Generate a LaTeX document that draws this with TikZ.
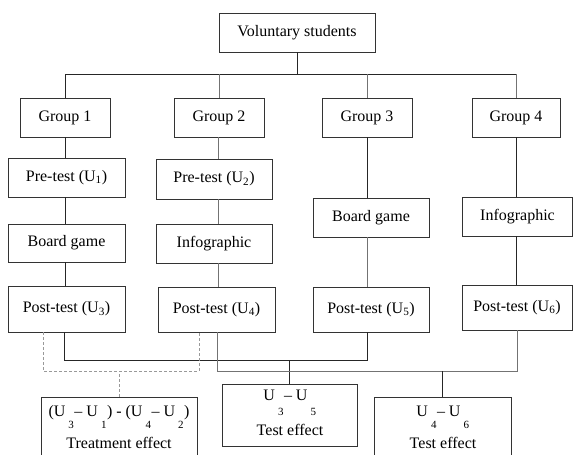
\documentclass[tikz,border=0pt]{standalone}
\usepackage{fontspec}
\setmainfont{Liberation Serif}
\newcommand\lowsub[2][12pt]{\rlap{\kern3pt\raisebox{-#1}{\fontsize{11}{12}\selectfont #2}}\kern9pt}
\begin{document}
\begin{tikzpicture}[x=1pt,y=-1pt,
  box/.style={draw=black!80, line width=0.9pt, inner sep=0pt, font=\fontsize{16}{18}\selectfont},
  lbl/.style={inner sep=0pt, font=\fontsize{16}{18}\selectfont},
  conn/.style={draw=black!85, line width=0.9pt},
  lconn/.style={draw=black!55, line width=0.9pt},
  dashconn/.style={draw=black!40, line width=0.8pt, dash pattern=on 3pt off 2pt}]
\useasboundingbox (0,0) rectangle (573,455);
\clip (0,0) rectangle (573,455);
\fill[white] (0,0) rectangle (573,455);

% top
\node[box, minimum width=156pt, minimum height=39pt] (vs) at (297,32.5) {Voluntary students};
% groups
\node[box, minimum width=90pt, minimum height=39pt] (g1) at (65,117.5) {Group 1};
\node[box, minimum width=90pt, minimum height=39pt] (g2) at (219,117.5) {Group 2};
\node[box, minimum width=90pt, minimum height=39pt] (g3) at (367,117.5) {Group 3};
\node[box, minimum width=88pt, minimum height=39pt] (g4) at (516,117.5) {Group 4};
% pre-tests
\node[box, minimum width=117pt, minimum height=39pt] (pre1) at (66.5,177.5) {Pre-test (U\textsubscript{1})};
\node[box, minimum width=116pt, minimum height=40pt] (pre2) at (214,179) {Pre-test (U\textsubscript{2})};
% treatments
\node[box, minimum width=117pt, minimum height=38pt] (bg1) at (66.5,243) {Board game};
\node[box, minimum width=116pt, minimum height=39pt] (ig2) at (214,243.5) {Infographic};
\node[box, minimum width=116pt, minimum height=39pt] (bg3) at (371,217.5) {Board game};
\node[box, minimum width=110pt, minimum height=39pt] (ig4) at (517.5,216.5) {Infographic};
% post-tests
\node[box, minimum width=117pt, minimum height=46pt] (p3) at (66.5,309) {Post-test (U\textsubscript{3})};
\node[box, minimum width=117pt, minimum height=45pt] (p4) at (216.5,309.5) {Post-test (U\textsubscript{4})};
\node[box, minimum width=116pt, minimum height=45pt] (p5) at (371,309.5) {Post-test (U\textsubscript{5})};
\node[box, minimum width=110pt, minimum height=45pt] (p6) at (517,307.5) {Post-test (U\textsubscript{6})};
% result boxes
\node[box, minimum width=156pt, minimum height=65pt] (tr) at (119,429.5) {};
\node[box, minimum width=135pt, minimum height=62pt] (t1) at (289.5,415) {};
\node[box, minimum width=137pt, minimum height=65pt] (t2) at (442.5,429.5) {};

% texts in result boxes
\node[lbl, anchor=base] (trf) at (119,416) {(U\lowsub{3}– U\lowsub{1}) - (U\lowsub{4}– U\lowsub{2})};
\node[lbl, anchor=base] (trn) at (119,448) {Treatment effect};
\node[lbl, anchor=base] (t1f) at (290,400) {U\lowsub[15pt]{3}– U\lowsub[15pt]{5}};
\node[lbl, anchor=base] (t1n) at (290,435) {Test effect};
\node[lbl, anchor=base] (t2f) at (443,416) {U\lowsub{4}– U\lowsub{6}};
\node[lbl, anchor=base] (t2n) at (443,448) {Test effect};

% top bus
\coordinate (busL) at (65,74);
\coordinate (busR) at (516,74);
\draw[conn] (vs.south) -- (vs.south |- busL);
\draw[conn] (busL) -- (busR);
\draw[conn] (g1.north) -- (g1.north |- busL);
\draw[lconn] (g2.north) -- (g2.north |- busL);
\draw[lconn] (g3.north) -- (g3.north |- busL);
\draw[lconn] (g4.north) -- (g4.north |- busL);

% columns
\coordinate (c1x) at (65,0);
\draw[conn] (g1.south -| c1x) -- (pre1.north -| c1x);
\draw[conn] (pre1.south -| c1x) -- (bg1.north -| c1x);
\draw[conn] (bg1.south -| c1x) -- (p3.north -| c1x);
\coordinate (c2x) at (218,0);
\draw[lconn] (g2.south -| c2x) -- (pre2.north -| c2x);
\draw[lconn] (pre2.south -| c2x) -- (ig2.north -| c2x);
\draw[lconn] (ig2.south -| c2x) -- (p4.north -| c2x);
\coordinate (c3x) at (367,0);
\draw[conn] (g3.south -| c3x) -- (bg3.north -| c3x);
\draw[lconn] (bg3.south -| c3x) -- (p5.north -| c3x);
\coordinate (c4x) at (516,0);
\draw[conn] (g4.south -| c4x) -- (ig4.north -| c4x);
\draw[conn] (ig4.south -| c4x) -- (p6.north -| c4x);

% first result bus (U3, U5)
\coordinate (b1) at (64,360);
\coordinate (b2) at (367,360);
\draw[conn] (p3.south -| b1) -- (b1) -- (b2) -- (p5.south -| b2);
\draw[conn] (t1.north) -- (t1.north |- b1);

% second result bus (U4, U6)
\coordinate (e1) at (217,371);
\coordinate (e2) at (517,371);
\draw[lconn] (p4.south -| e1) -- (e1) -- (e2) -- (p6.south -| e2);
\draw[conn] (t2.north) -- (t2.north |- e1);

% dashed bracket
\coordinate (d1) at (43,371);
\coordinate (d2) at (199,371);
\draw[dashconn] (p3.south -| d1) -- (d1) -- (d2) -- (p4.south -| d2);
\draw[dashconn] (tr.north) -- (tr.north |- d1);
\end{tikzpicture}
\end{document}
